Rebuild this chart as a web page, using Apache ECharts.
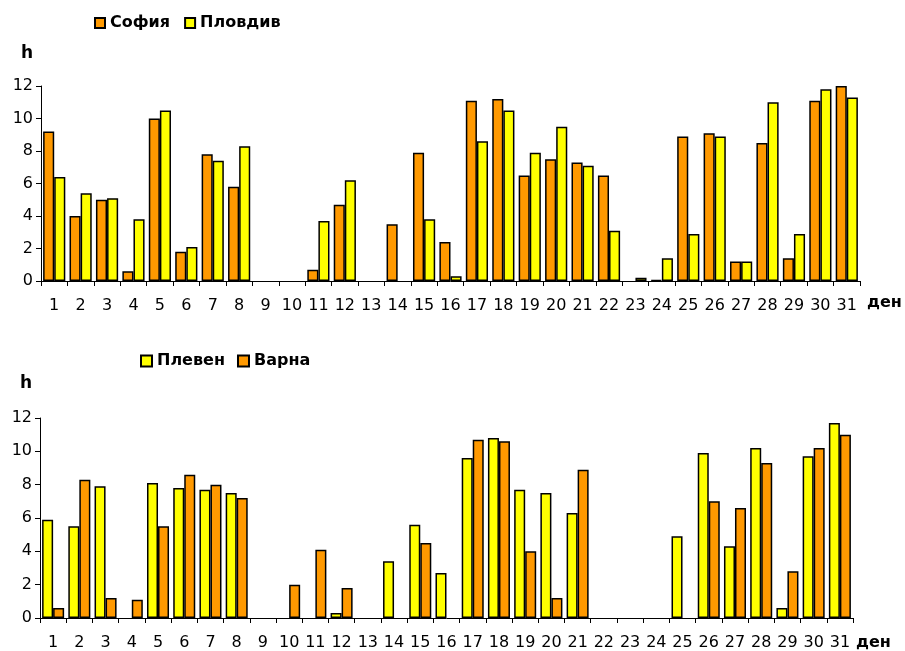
<!DOCTYPE html>
<html>
<head>
<meta charset="utf-8">
<script src="https://cdn.jsdelivr.net/npm/echarts@6/dist/echarts.min.js"></script>
<style>
html, body { margin: 0; padding: 0; background: #fff; }
#chart { width: 905px; height: 651px; }
</style>
</head>
<body>
<div id="chart"></div>
<script>
var days = [];
for (var d = 1; d <= 31; d++) days.push(String(d));

var yTicks = [0, 2, 4, 6, 8, 10, 12];

// часове слънчево греене по дни
var sofia   = [9.2, 4.0, 5.0, 0.6, 10.0, 1.8, 7.8, 5.8, null, null, 0.7, 4.7, null, 3.5, 7.9, 2.4,
               11.1, 11.2, 6.5, 7.5, 7.3, 6.5, null, 0.05, 8.9, 9.1, 1.2, 8.5, 1.4, 11.1, 12.0];
var plovdiv = [6.4, 5.4, 5.1, 3.8, 10.5, 2.1, 7.4, 8.3, null, null, 3.7, 6.2, null, null, 3.8, 0.3,
               8.6, 10.5, 7.9, 9.5, 7.1, 3.1, 0.2, 1.4, 2.9, 8.9, 1.2, 11.0, 2.9, 11.8, 11.3];
var pleven  = [5.9, 5.5, 7.9, null, 8.1, 7.8, 7.7, 7.5, null, null, null, 0.3, null, 3.4, 5.6, 2.7,
               9.6, 10.8, 7.7, 7.5, 6.3, null, null, null, 4.9, 9.9, 4.3, 10.2, 0.6, 9.7, 11.7];
var varna   = [0.6, 8.3, 1.2, 1.1, 5.5, 8.6, 8.0, 7.2, null, 2.0, 4.1, 1.8, null, null, 4.5, null,
               10.7, 10.6, 4.0, 1.2, 8.9, null, null, null, null, 7.0, 6.6, 9.3, 2.8, 10.2, 11.0];

var ORANGE = '#FF9900';
var YELLOW = '#FFFF00';
var FONT = 'DejaVu Sans';

var chart = echarts.init(document.getElementById('chart'));

function xAx(idx, gap, pad) {
	return {
		type: 'category',
		gridIndex: idx,
		data: days,
		name: 'ден',
		nameLocation: 'end',
		nameGap: gap,
		nameTextStyle: { color: '#000', fontFamily: FONT, fontWeight: 'bold', fontSize: 16,
			verticalAlign: 'top', padding: [pad, 0, 0, 0] },
		axisLine: { lineStyle: { color: '#000', width: 1 } },
		axisTick: { show: true, length: 5, lineStyle: { color: '#000' } },
		axisLabel: { color: '#000', fontFamily: FONT, fontSize: 16, margin: 17, interval: 0 },
		splitLine: { show: false }
	};
}

function yAx(idx, gap) {
	return {
		type: 'value',
		gridIndex: idx,
		min: yTicks[0],
		max: yTicks[yTicks.length - 1],
		interval: 2,
		name: 'h',
		nameLocation: 'end',
		nameGap: gap,
		nameTextStyle: { color: '#000', fontFamily: FONT, fontWeight: 'bold', fontSize: 17,
			align: 'right', padding: [0, 8, 0, 0] },
		axisLine: { show: true, lineStyle: { color: '#000', width: 1 } },
		axisTick: { show: true, length: 5, lineStyle: { color: '#000' } },
		axisLabel: { color: '#000', fontFamily: FONT, fontSize: 16, margin: 8 },
		splitLine: { show: false }
	};
}

function bar(name, data, color, xi) {
	return {
		name: name,
		type: 'bar',
		xAxisIndex: xi,
		yAxisIndex: xi,
		data: data,
		barGap: '0%',
		barCategoryGap: '16%',
		itemStyle: { color: color, borderColor: '#000', borderWidth: 1.5 },
		emphasis: { disabled: true }
	};
}

var legendText = { color: '#000', fontFamily: FONT, fontWeight: 'bold', fontSize: 16 };

var option = {
	backgroundColor: '#fff',
	animation: false,
	legend: [{
		data: ['София', 'Пловдив'],
		left: 89, top: 10,
		icon: 'rect', itemWidth: 10, itemHeight: 10, itemGap: 14,
		textStyle: legendText
	}, {
		data: ['Плевен', 'Варна'],
		left: 135, top: 348,
		icon: 'rect', itemWidth: 11, itemHeight: 11, itemGap: 12,
		textStyle: legendText
	}],
	grid: [
		{ left: 41, right: 45, top: 86, height: 195 },
		{ left: 40, right: 52, top: 418, height: 200 }
	],
	xAxis: [xAx(0, 7, 14), xAx(1, 3, 17)],
	yAxis: [yAx(0, 24), yAx(1, 26)],
	series: [
		bar('София', sofia, ORANGE, 0),
		bar('Пловдив', plovdiv, YELLOW, 0),
		bar('Плевен', pleven, YELLOW, 1),
		bar('Варна', varna, ORANGE, 1)
	]
};

chart.setOption(option);
</script>
</body>
</html>
